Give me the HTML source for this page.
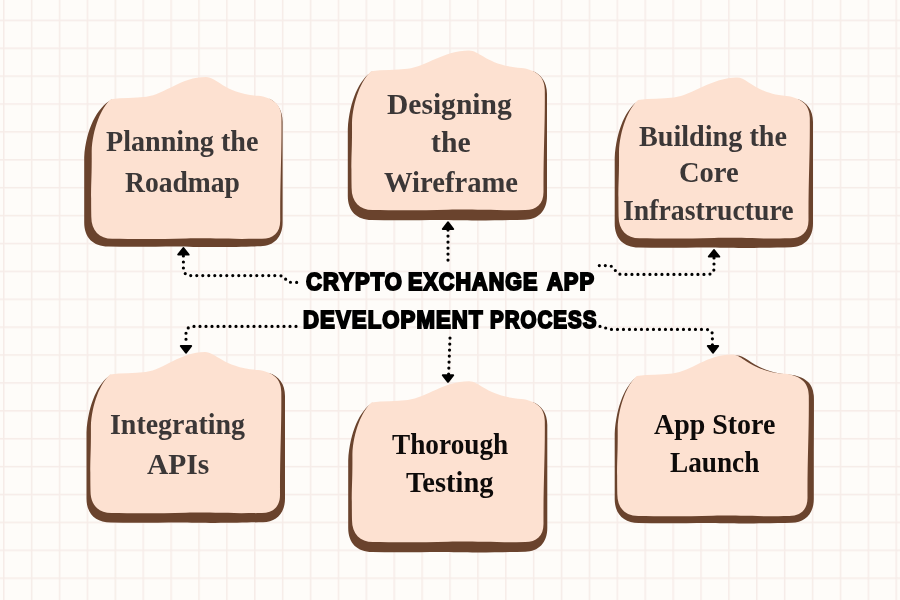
<!DOCTYPE html>
<html>
<head>
<meta charset="utf-8">
<title>Crypto Exchange App Development Process</title>
<style>
html,body{margin:0;padding:0;}
body{width:900px;height:600px;overflow:hidden;background:#fefcf9;position:relative;font-family:"Liberation Serif",serif;}
svg{position:absolute;left:0;top:0;}
.lbl{position:absolute;font-family:"Liberation Serif",serif;font-weight:bold;font-size:30px;line-height:40px;color:#3b3737;white-space:nowrap;transform-origin:0 0;}
.lbl.dk{color:#0e0b0a;}
.title{position:absolute;font-family:"Liberation Sans",sans-serif;font-weight:bold;font-size:24px;line-height:30px;color:#000;white-space:nowrap;transform-origin:0 0;-webkit-text-stroke:2px #000;paint-order:stroke fill;letter-spacing:1.2px;}
</style>
</head>
<body>
<svg width="900" height="600" viewBox="0 0 900 600">
  <defs>
    <pattern id="gp" x="3" y="19.6" width="27.89" height="27.89" patternUnits="userSpaceOnUse">
      <rect x="0" y="0" width="1.5" height="27.89" fill="#f6ece8"/>
      <rect x="0" y="0" width="27.89" height="1.5" fill="#f6ece8"/>
    </pattern>
    <filter id="gb" x="0" y="0" width="100%" height="100%"><feGaussianBlur stdDeviation="0.6"/></filter>
  </defs>
  <rect x="0" y="0" width="900" height="600" fill="url(#gp)" filter="url(#gb)"/>
</svg>
<svg width="900" height="600" viewBox="0 0 900 600">
<g><path d="M111.8,99.4C97.0,107.2 86.1,129.2 84.2,157.2L84.2,222.6C84.2,237.6 93.2,246.6 108.2,246.6C143.4,247.4 173.4,246.0 193.4,246.9C223.4,247.4 242.6,246.6 260.6,246.3C273.6,246.1 282.6,237.6 282.6,222.6L282.6,121.8C282.6,109.8 276.6,101.8 269.0,98.8L251.0,125.8L131.8,129.2Z" fill="#6a432d"/><path d="M110.8,99.2C122.3,97.6 134.3,98.0 146.3,96.7C165.3,94.2 181.0,77.0 206.0,77.0C217.0,77.0 224.0,93.3 258.0,95.8C272.0,97.5 281.5,103.8 281.5,117.8C281.8,155.8 280.0,178.7 280.2,220.7C280.2,232.7 273.0,238.7 262.0,238.7C226.2,239.5 206.2,237.9 186.2,238.4C156.2,239.3 131.3,239.0 112.3,238.7C99.3,238.7 91.3,230.7 91.3,216.7C90.7,178.7 91.9,184.2 91.7,151.2C92.5,129.2 101.3,107.2 110.8,99.2Z" fill="#fde1d1"/></g>
<g><path d="M372.1,71.5C359.3,79.3 349.4,101.3 347.8,129.3L347.8,196.0C347.8,211.0 356.8,220.0 371.8,220.0C407.4,220.8 437.4,219.4 457.4,220.3C487.4,220.8 507.0,220.0 525.0,219.7C538.0,219.5 547.0,211.0 547.0,196.0L547.0,94.0C547.0,82.0 541.0,74.0 532.3,71.0L514.3,98.0L392.1,101.3Z" fill="#6a432d"/><path d="M371.1,71.3C382.6,69.7 395.5,70.1 407.5,68.8C426.5,66.3 444.0,50.5 469.0,50.5C480.0,50.5 487.0,65.5 521.3,68.0C535.3,69.7 544.8,76.0 544.8,90.0C545.1,128.0 543.3,150.0 543.5,192.0C543.5,204.0 536.3,210.0 525.3,210.0C487.9,210.8 467.9,209.2 447.9,209.7C417.9,210.6 391.6,210.3 372.6,210.0C359.6,210.0 351.6,202.0 351.6,188.0C351.0,150.0 352.2,156.3 352.0,123.3C352.8,101.3 361.6,79.3 371.1,71.3Z" fill="#fde1d1"/></g>
<g><path d="M639.1,100.2C626.3,108.0 616.3,130.0 614.7,158.0L614.7,223.5C614.7,238.5 623.7,247.5 638.7,247.5C673.9,248.3 703.9,246.9 723.9,247.8C753.9,248.3 773.0,247.5 791.0,247.2C804.0,247.0 813.0,238.5 813.0,223.5L813.0,122.0C813.0,110.0 807.0,102.0 797.3,99.0L779.3,126.0L659.1,130.0Z" fill="#6a432d"/><path d="M638.1,100.0C649.6,98.4 661.9,98.8 673.9,97.5C692.9,95.0 712.0,77.5 737.0,77.5C748.0,77.5 755.0,93.5 786.3,96.0C800.3,97.7 809.8,104.0 809.8,118.0C810.1,156.0 808.3,178.2 808.5,220.2C808.5,232.2 801.3,238.2 790.3,238.2C754.0,239.0 734.0,237.4 714.0,237.9C684.0,238.8 658.6,238.5 639.6,238.2C626.6,238.2 618.6,230.2 618.6,216.2C618.0,178.2 619.2,185.0 619.0,152.0C619.8,130.0 628.6,108.0 638.1,100.0Z" fill="#fde1d1"/></g>
<g><path d="M111.0,374.7C98.1,382.5 88.1,404.5 86.5,432.5L86.5,498.5C86.5,513.5 95.5,522.5 110.5,522.5C145.8,523.3 175.8,521.9 195.8,522.8C225.8,523.3 245.0,522.5 263.0,522.2C276.0,522.0 285.0,513.5 285.0,498.5L285.0,396.0C285.0,384.0 279.0,376.0 268.8,373.0L250.8,400.0L131.0,404.5Z" fill="#6a432d"/><path d="M110.0,374.5C121.5,372.9 133.7,373.3 145.7,372.0C164.7,369.5 180.0,352.0 205.0,352.0C216.0,352.0 223.0,367.5 257.8,370.0C271.8,371.7 281.3,378.0 281.3,392.0C281.6,430.0 279.8,453.0 280.0,495.0C280.0,507.0 272.8,513.0 261.8,513.0C225.7,513.8 205.7,512.2 185.7,512.7C155.7,513.6 130.5,513.3 111.5,513.0C98.5,513.0 90.5,505.0 90.5,491.0C89.9,453.0 91.1,459.5 90.9,426.5C91.7,404.5 100.5,382.5 110.0,374.5Z" fill="#fde1d1"/></g>
<g><path d="M372.5,402.7C359.7,410.5 349.8,432.5 348.2,460.5L348.2,528.0C348.2,543.0 357.2,552.0 372.2,552.0C407.8,552.8 437.8,551.4 457.8,552.3C487.8,552.8 507.3,552.0 525.3,551.7C538.3,551.5 547.3,543.0 547.3,528.0L547.3,425.0C547.3,413.0 541.3,405.0 532.3,402.0L514.3,429.0L392.5,432.5Z" fill="#6a432d"/><path d="M371.5,402.5C383.0,400.9 395.8,401.3 407.8,400.0C426.8,397.5 444.0,381.3 469.0,381.3C480.0,381.3 487.0,396.5 521.3,399.0C535.3,400.7 544.8,407.0 544.8,421.0C545.1,459.0 543.3,482.0 543.5,524.0C543.5,536.0 536.3,542.0 525.3,542.0C488.1,542.8 468.1,541.2 448.1,541.7C418.1,542.6 392.0,542.3 373.0,542.0C360.0,542.0 352.0,534.0 352.0,520.0C351.4,482.0 352.6,487.5 352.4,454.5C353.2,432.5 362.0,410.5 371.5,402.5Z" fill="#fde1d1"/></g>
<g><path d="M637.8,376.2C625.7,384.0 616.2,406.0 614.7,434.0L614.7,499.0C614.7,514.0 623.7,523.0 638.7,523.0C674.2,523.8 704.2,522.4 724.2,523.3C754.2,523.8 773.8,523.0 791.8,522.7C804.8,522.5 813.8,514.0 813.8,499.0L813.8,399.8C813.8,387.8 807.8,379.8 796.3,376.8L778.3,403.8L657.8,406.0Z" fill="#6a432d"/><path d="M636.8,376.0C648.3,374.4 660.7,374.8 672.7,373.5C691.7,371.0 707.0,354.5 732.0,354.5C743.0,354.5 750.0,371.3 785.3,373.8C799.3,375.5 808.8,381.8 808.8,395.8C809.1,433.8 807.3,456.0 807.5,498.0C807.5,510.0 800.3,516.0 789.3,516.0C752.8,516.8 732.8,515.2 712.8,515.7C682.8,516.6 657.3,516.3 638.3,516.0C625.3,516.0 617.3,508.0 617.3,494.0C616.7,456.0 617.9,461.0 617.7,428.0C618.5,406.0 627.3,384.0 636.8,376.0Z" transform="translate(4.9,0.9)" fill="#6a432d"/><path d="M636.8,376.0C648.3,374.4 660.7,374.8 672.7,373.5C691.7,371.0 707.0,354.5 732.0,354.5C743.0,354.5 750.0,371.3 785.3,373.8C799.3,375.5 808.8,381.8 808.8,395.8C809.1,433.8 807.3,456.0 807.5,498.0C807.5,510.0 800.3,516.0 789.3,516.0C752.8,516.8 732.8,515.2 712.8,515.7C682.8,516.6 657.3,516.3 638.3,516.0C625.3,516.0 617.3,508.0 617.3,494.0C616.7,456.0 617.9,461.0 617.7,428.0C618.5,406.0 627.3,384.0 636.8,376.0Z" fill="#fde1d1"/></g>
<path d="M183.4,256 L183.4,268 C183.4,273 186,275.6 191,275.6 L279,275.6 C286,275.6 285,282.4 292,282.4 L297.5,282.4" fill="none" stroke="#000" stroke-width="3.2" stroke-linecap="round" stroke-dasharray="0 6"/>
<path d="M183.4,248.0L188.6,254.6L178.2,254.6Z" fill="#000" stroke="#000" stroke-width="2" stroke-linejoin="round"/>
<path d="M448,230.1 L448,261" fill="none" stroke="#000" stroke-width="3.2" stroke-linecap="round" stroke-dasharray="0 6"/>
<path d="M448.0,222.4L453.2,229.0L442.8,229.0Z" fill="#000" stroke="#000" stroke-width="2" stroke-linejoin="round"/>
<path d="M714,258 L714,268 C714,272.5 712,274.4 707,274.4 L622,274.4 C614,274.4 616,265.6 608,265.6 L599,265.6" fill="none" stroke="#000" stroke-width="3.2" stroke-linecap="round" stroke-dasharray="0 6"/>
<path d="M714.0,250.0L719.2,256.6L708.8,256.6Z" fill="#000" stroke="#000" stroke-width="2" stroke-linejoin="round"/>
<path d="M296,326.4 L194,326.4 C188.5,326.4 186,329 186,333 L186,345" fill="none" stroke="#000" stroke-width="3.2" stroke-linecap="round" stroke-dasharray="0 6"/>
<path d="M186.0,352.6L191.2,346.0L180.8,346.0Z" fill="#000" stroke="#000" stroke-width="2" stroke-linejoin="round"/>
<path d="M450,338.1 L448.6,374.2" fill="none" stroke="#000" stroke-width="3.2" stroke-linecap="round" stroke-dasharray="0 6"/>
<path d="M448.0,381.8L453.2,375.2L442.8,375.2Z" fill="#000" stroke="#000" stroke-width="2" stroke-linejoin="round"/>
<path d="M600,326.4 C606,326.4 605,329.4 611,329.4 L705,329.4 C710,329.4 712.4,331 712.4,335 L712.4,346" fill="none" stroke="#000" stroke-width="3.2" stroke-linecap="round" stroke-dasharray="0 6"/>
<path d="M713.0,352.6L718.2,346.0L707.8,346.0Z" fill="#000" stroke="#000" stroke-width="2" stroke-linejoin="round"/>
</svg>
<div class="lbl" style="left:106.10px;top:121.0px;transform:scaleX(0.9377);">Planning the</div>
<div class="lbl" style="left:125.40px;top:161.6px;transform:scaleX(0.9194);">Roadmap</div>
<div class="lbl" style="left:387.02px;top:83.6px;transform:scaleX(0.9841);">Designing</div>
<div class="lbl" style="left:431.01px;top:122.4px;transform:scaleX(0.9895);">the</div>
<div class="lbl" style="left:384.00px;top:162.4px;transform:scaleX(0.9543);">Wireframe</div>
<div class="lbl" style="left:639.00px;top:115.6px;transform:scaleX(0.9389);">Building the</div>
<div class="lbl" style="left:679.45px;top:152.4px;transform:scaleX(0.9508);">Core</div>
<div class="lbl" style="left:623.48px;top:189.6px;transform:scaleX(0.9246);">Infrastructure</div>
<div class="lbl" style="left:110.07px;top:403.6px;transform:scaleX(0.9306);">Integrating</div>
<div class="lbl" style="left:147.40px;top:444.4px;transform:scaleX(0.9841);">APIs</div>
<div class="lbl dk" style="left:392.00px;top:423.6px;transform:scaleX(0.9094);">Thorough</div>
<div class="lbl dk" style="left:406.40px;top:462.0px;transform:scaleX(0.9478);">Testing</div>
<div class="lbl dk" style="left:654.00px;top:403.6px;transform:scaleX(0.9308);">App Store</div>
<div class="lbl dk" style="left:670.00px;top:442.0px;transform:scaleX(0.9082);">Launch</div>
<div class="title" style="left:305.80px;top:267.0px;transform:scaleX(0.9162);">CRYPTO</div>
<div class="title" style="left:408.30px;top:267.0px;transform:scaleX(0.8965);">EXCHANGE</div>
<div class="title" style="left:546.71px;top:267.0px;transform:scaleX(0.9094);">APP</div>
<div class="title" style="left:302.78px;top:305.0px;transform:scaleX(0.9216);">DEVELOPMENT</div>
<div class="title" style="left:489.95px;top:305.0px;transform:scaleX(0.8548);">PROCESS</div>
</body>
</html>
